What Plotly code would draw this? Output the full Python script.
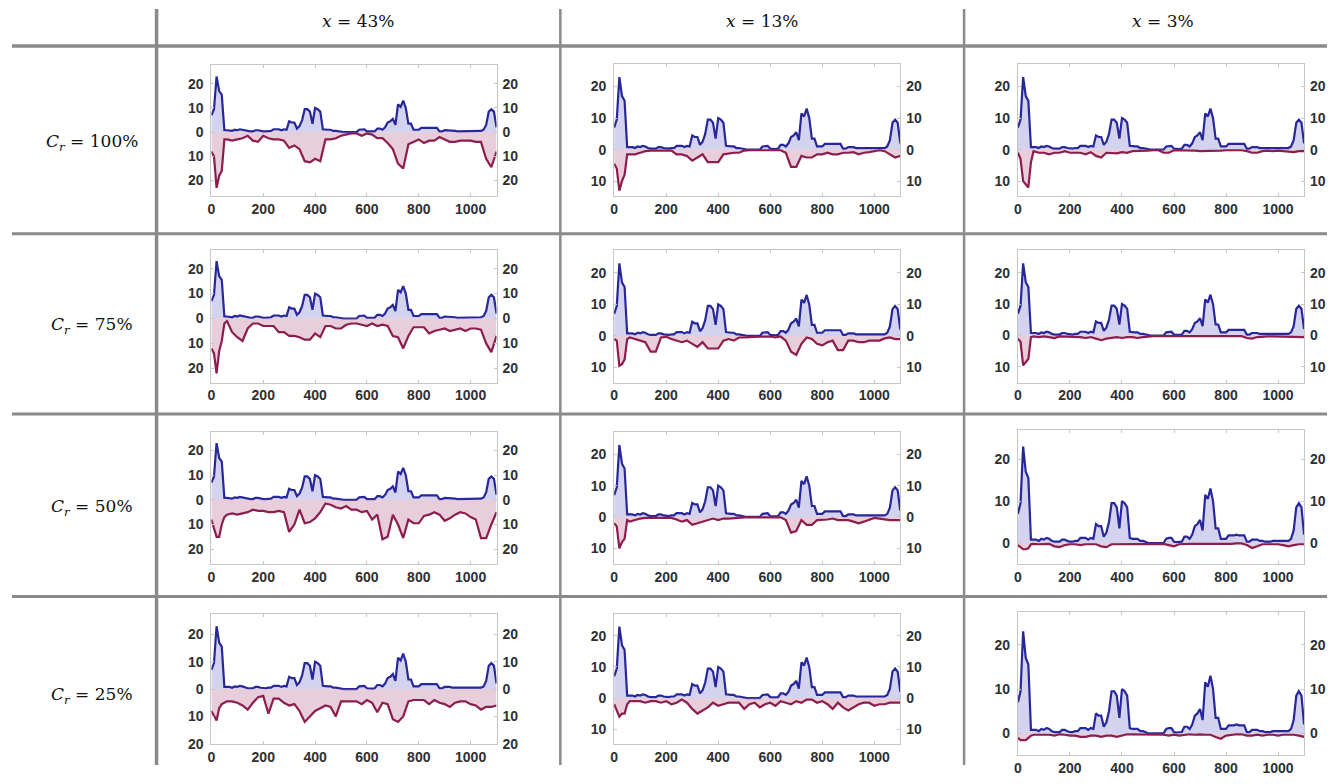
import plotly.graph_objects as go

# page size of the reference; the html body adds an 8px margin all round
W, H = 1335, 784
PAD = 8
FW, FH = W - 2 * PAD, H - 2 * PAD

# column / row headers
COL_LABELS = ["43%", "13%", "3%"]
ROW_LABELS = ["100%", "75%", "50%", "25%"]

X_TICKS = [0, 200, 400, 600, 800, 1000]

# upper (blue) series, same in every panel, sampled every 10
X_BLUE = list(range(0, 1101, 10))
BLUE = [7, 9.5, 23, 17, 15.5, 0.8, 0.8, 0.8, 0.5, 1,
        0.8, 1.2, 1, 0.5, 0.3, 0.3, 0.3, 0.8, 0.8, 0.5,
        0.3, 0.3, 0.5, 0.5, 1.2, 1.2, 1.2, 0.8, 1.2, 1,
        4.5, 4, 4, 1.5, 2.5, 5, 9.5, 9.5, 8.5, 3.5,
        10, 9.5, 8.5, 1.2, 1, 1, 1, 0.5, 0.5, 0.3,
        0, 0, 0, 0, 0, 0, 0, 1, 1.2, 1.2,
        0.3, 0.2, 0.2, 0.3, 1.5, 1.5, 1, 2, 4, 4.5,
        5.5, 3, 11.5, 10.5, 13, 10, 3.5, 3.5, 1, 1,
        1, 1.8, 1.8, 1.8, 2, 1.8, 1.8, 1.8, 0.3, 0.3,
        0.8, 0.8, 0.8, 0.5, 0.5, 0.3, 0.3, 0.3, 0.5, 0.5,
        0.5, 0.5, 0.5, 0.5, 0.5, 1, 3, 8.5, 9.5, 8.5,
        2]

# lower (red) series, plotted downwards
X_RED = [0, 10, 20, 30, 40, 50, 60] + list(range(80, 1101, 20))

RED_100_43 = [8, 10, 23, 18, 16, 3, 3,
              3.5, 3, 2.5, 1.5, 3.5, 4, 1.5, 2.5, 3, 3,
              3.5, 6.5, 5.5, 7, 12, 12.5, 11, 12, 3, 3,
              2.5, 1.5, 1, 0.5, 0.5, 1.5, 0.5, 1, 2.5, 2.5,
              4.5, 7, 13, 15, 5, 4, 3, 4.5, 3.5, 3.5,
              2, 3, 4, 4, 3.5, 3.5, 3.5, 4, 4, 11,
              14.5, 8]
RED_100_13 = [4.5, 6, 13, 10, 8, 1.5, 1.5,
              1.5, 1, 0.5, 0.3, 0.3, 0.3, 0.3, 0.3, 1.5, 1.5,
              2, 3.5, 2.5, 1.5, 4, 4, 4, 1.5, 1.2, 1,
              1, 0.3, 0.2, 0.2, 0.2, 0.2, 0.2, 0.2, 0.2, 1,
              5.5, 5.5, 2, 2.5, 2.5, 1.5, 1.5, 1, 1.5, 1.5,
              1, 1, 0.8, 1.5, 1, 0.8, 0.5, 0.2, 0.5, 1.5,
              2.5, 2]
RED_100_3 = [1, 3, 10, 11, 12, 4, 0.5,
             1, 1, 1.5, 1, 1, 0.5, 1, 1, 1, 1.5,
             0.8, 2, 2.5, 1, 1.2, 1.2, 0.8, 1, 0.5, 0.5,
             0.3, 0.3, 0.2, 0.2, 1, 1, 0.2, 0.2, 0.2, 0.2,
             0.3, 0.5, 0.5, 0.3, 0.3, 0.3, 0.2, 0.2, 0.2, 0.2,
             0.5, 1, 1, 0.5, 0.3, 0.5, 0.3, 0.5, 0.5, 0.8,
             0.5, 0.5]
RED_75_43 = [12, 14, 22, 13, 9, 2, 1,
             5.5, 7.5, 9, 4, 2, 2, 3, 3, 3, 5.5,
             5.5, 7, 7, 7.5, 8.5, 8.5, 6, 7.5, 3, 3,
             4, 4, 2.5, 2, 2, 2.5, 3, 2, 3, 2.5,
             3, 7, 7.5, 12, 7, 3.5, 3.5, 3.5, 6, 5,
             4.5, 4, 5, 4.5, 4, 5, 4, 4, 4.5, 10,
             13.5, 7]
RED_75_13 = [1, 1.5, 9.5, 9, 7.5, 1, 0.5,
             1, 1.5, 2, 5, 5, 0.5, 0.3, 1, 1.5, 2,
             1.5, 2.5, 3.5, 2, 4, 4, 4, 1.5, 1, 1.5,
             0.5, 0.5, 0.5, 0.3, 0.2, 0.2, 0.2, 0.5, 0.2, 1.5,
             5, 6, 2.5, 0.5, 1, 2.5, 3, 2, 1.5, 4.5,
             4.5, 1.5, 1.5, 2, 2, 1.5, 1.5, 1.5, 0.8, 0.5,
             1, 1]
RED_75_3 = [1, 2, 9.5, 8.5, 7.5, 0.5, 0.3,
            0.5, 0.3, 0.5, 0.8, 0.3, 0.3, 0.3, 0.3, 0.5, 0.8,
            0.5, 1, 1.5, 1, 0.8, 0.5, 0.8, 0.5, 0.5, 0.8,
            0.5, 0.3, 0.2, 0.2, 0.2, 0.2, 0.2, 0.2, 0.2, 0.2,
            0.2, 0.2, 0.2, 0.2, 0.2, 0.2, 0.2, 0.2, 0.2, 0.2,
            0.8, 1, 0.5, 0.3, 0.3, 0.3, 0.3, 0.3, 0.5, 0.3,
            0.5, 0.5]
RED_50_43 = [8, 12, 15, 15, 10, 7, 6,
             5.5, 6, 5.5, 5, 4, 4.5, 4.5, 5, 5, 4.5,
             5, 13, 10, 4, 9.5, 9, 7.5, 5, 1.5, 2,
             3, 3.5, 2.5, 4, 4, 5, 4.5, 8, 6, 16,
             15, 6, 10, 15.5, 8, 9.5, 9.5, 6.5, 6, 5,
             6, 8.5, 7.5, 6, 5, 5.5, 7, 8, 15.5, 15.5,
             10, 5]
RED_50_13 = [2, 3, 10, 8, 7, 1, 1.5,
             1, 0.5, 0.3, 0.3, 0.3, 0.3, 0.3, 0.3, 0.8, 1.5,
             1, 2.5, 2, 1.5, 1, 0.5, 1, 0.5, 0.5, 0.3,
             0.3, 0.1, 0.1, 0.1, 0.1, 0.1, 0.1, 0.1, 0.1, 1,
             5, 4.5, 1, 2.5, 2.5, 1, 1, 0.8, 0.5, 1,
             1, 1, 1.5, 2, 1.5, 0.8, 0.3, 0.5, 0.8, 1,
             1, 1]
RED_50_3 = [0.5, 1, 1.5, 1.5, 1.3, 0.3, 0.2,
            0.3, 0.2, 0.2, 0.8, 1, 0.5, 0.3, 0.3, 0.5, 0.3,
            0.3, 0.3, 0.8, 1, 0.3, 0.3, 0.3, 0.2, 0.2, 0.2,
            0.2, 0.2, 0.2, 0.2, 0.2, 0.5, 0.8, 0.3, 0.2, 0.2,
            0.2, 0.2, 0.3, 0.3, 0.2, 0.2, 0.2, 0.2, 0.1, 0.1,
            0.5, 1.2, 0.8, 0.3, 0.3, 0.3, 0.3, 0.5, 0.8, 0.5,
            0.3, 0.3]
RED_25_43 = [8, 10, 11.5, 7, 5.5, 5, 4.5,
             4.5, 5, 6, 7.5, 5, 3, 2.5, 9, 3.5, 3.5,
             5, 6, 5.5, 8, 12, 10, 8, 7, 6, 6.5,
             10, 4.5, 4.5, 4.5, 4.5, 5.5, 4, 5, 8.5, 5,
             5.5, 11, 12, 10, 4.5, 4, 4, 4, 5.5, 4,
             5, 5.5, 6.5, 5, 4.5, 4.5, 5.5, 6, 7.5, 6.5,
             6.5, 6]
RED_25_13 = [2, 4, 6, 5, 5, 2, 1,
             1, 1, 1.5, 1, 1, 1.5, 1, 2, 1.5, 0.5,
             1.5, 3.5, 5, 4, 3, 1.5, 2.5, 2, 1.5, 1.5,
             1.5, 3.5, 2, 1.5, 3, 2, 1.5, 2.5, 1, 1.5,
             2, 1, 1.5, 0.5, 0.5, 1.5, 1, 2, 3.5, 1.5,
             3, 4, 3, 2, 1.5, 1.5, 2.5, 2, 2, 1.5,
             1.5, 1.5]
RED_25_3 = [1, 1.5, 1.5, 1.5, 1, 0.5, 0.3,
            0.3, 0.3, 0.3, 0.5, 0.2, 0.3, 0.5, 0.5, 0.8, 0.8,
            0.5, 0.5, 0.8, 0.5, 0.5, 0.8, 0.5, 0.2, 0.2, 0.2,
            0.2, 0.3, 0.2, 0.3, 0.3, 0.5, 0.3, 0.5, 0.3, 0.2,
            0.3, 0.2, 0.3, 0.3, 0.8, 1.2, 0.5, 0.3, 0.2, 0.2,
            0.5, 0.5, 0.3, 0.5, 0.3, 0.3, 0.5, 0.3, 0.3, 0.3,
            0.5, 0.8]

RED = [[RED_100_43, RED_100_13, RED_100_3],
       [RED_75_43, RED_75_13, RED_75_3],
       [RED_50_43, RED_50_13, RED_50_3],
       [RED_25_43, RED_25_13, RED_25_3]]

# y-axis ranges of every small plot
Y_RANGE = [[(-26.5, 27.7), (-14.8, 27.1), (-14.8, 27.1)],
           [(-25.7, 27.3), (-14.8, 27.1), (-15, 27.1)],
           [(-26, 27.6), (-15, 27.2), (-5, 27)],
           [(-20.2, 27.4), (-14.9, 27), (-4.9, 27.3)]]

# plot boxes in page pixels
COL_BOX = [(208, 494), (612, 899), (1017, 1304)]
ROW_BOX = [[(66, 199), (65, 199), (65, 199)],
           [(254, 388), (254, 388), (254, 388)],
           [(438, 572), (438, 572), (436, 572)],
           [(623, 755), (623, 755), (621, 766)]]

BLUE_LINE, BLUE_FILL = "#27279a", "rgba(150,150,220,0.42)"
RED_LINE, RED_FILL = "#8c1d4e", "rgba(190,120,155,0.36)"
BOX = "#c6c6c6"
TICK_FONT = dict(family="Liberation Sans", size=14, color="#303030",
                 weight="bold")


def px(x):
    return (x - PAD) / FW


def py(y):
    return 1 - (y - PAD) / FH


def ref(prefix, i):
    return prefix if i == 1 else f"{prefix}{i}"


fig = go.Figure()
layout = {}

for r in range(4):
    for c in range(3):
        i = r * 3 + c + 1
        j = i + 12
        x0, x1 = COL_BOX[c]
        top, bot = ROW_BOX[r][c]
        lo, hi = Y_RANGE[r][c]
        yt = [v for v in (-20, -10, 0, 10, 20) if lo <= v <= hi]
        ytxt = [str(abs(v)) for v in yt]

        layout[ref("xaxis", i)] = dict(
            domain=[px(x0), px(x1)], range=[0, 1100], anchor=ref("y", i),
            tickvals=X_TICKS, showgrid=False, zeroline=False,
            showline=True, linecolor=BOX, linewidth=1, mirror="ticks",
            ticks="inside", ticklen=3, tickcolor=BOX, tickfont=TICK_FONT)
        layout[ref("yaxis", i)] = dict(
            domain=[py(bot), py(top)], range=[lo, hi], anchor=ref("x", i),
            tickvals=yt, ticktext=ytxt, showgrid=False, zeroline=False,
            showline=True, linecolor=BOX, linewidth=1, mirror="ticks",
            ticks="inside", ticklen=3, tickcolor=BOX, tickfont=TICK_FONT,
            ticklabelstandoff=4)
        layout[ref("yaxis", j)] = dict(
            overlaying=ref("y", i), side="right", anchor=ref("x", i),
            range=[lo, hi], tickvals=yt, ticktext=ytxt, showgrid=False,
            zeroline=False, showline=False, ticks="", tickfont=TICK_FONT,
            ticklabelstandoff=5)

        fig.add_trace(go.Scatter(
            x=X_BLUE, y=BLUE, mode="lines", fill="tozeroy",
            fillcolor=BLUE_FILL, line=dict(color=BLUE_LINE, width=2.2),
            xaxis=ref("x", i), yaxis=ref("y", i), hoverinfo="skip"))
        fig.add_trace(go.Scatter(
            x=X_RED, y=[-v for v in RED[r][c]], mode="lines", fill="tozeroy",
            fillcolor=RED_FILL, line=dict(color=RED_LINE, width=2.2),
            xaxis=ref("x", i), yaxis=ref("y", j), hoverinfo="skip"))

# table rules
shapes = []
for y, w in [(46.5, 3.5), (237, 3), (420, 3), (605, 3)]:
    shapes.append(dict(type="line", xref="paper", yref="paper",
                       x0=px(8), x1=1, y0=py(y), y1=py(y),
                       line=dict(color="#8a8a8a", width=w)))
for x, w in [(153, 3.5), (558, 2.5), (963, 2.5)]:
    shapes.append(dict(type="line", xref="paper", yref="paper",
                       x0=px(x), x1=px(x), y0=py(9), y1=0,
                       line=dict(color="#8a8a8a", width=w)))

HEAD_FONT = dict(family="DejaVu Serif", size=17, color="#111")
annotations = []
for c, lab in enumerate(COL_LABELS):
    annotations.append(dict(
        x=px([355, 760, 1163][c]), y=py(21), xref="paper", yref="paper",
        text=f"<i>x</i> = {lab}", showarrow=False, font=HEAD_FONT,
        xanchor="center", yanchor="middle"))
for r, lab in enumerate(ROW_LABELS):
    annotations.append(dict(
        x=px(88), y=py([144, 330, 515, 705][r]), xref="paper", yref="paper",
        text=f"<i>C</i><sub><i>r</i></sub> = {lab}", showarrow=False,
        font=HEAD_FONT, xanchor="center", yanchor="middle"))

fig.update_layout(
    width=FW, height=FH, margin=dict(l=0, r=0, t=0, b=0),
    paper_bgcolor="white", plot_bgcolor="white", showlegend=False,
    shapes=shapes, annotations=annotations, **layout)

fig.write_html("out.html")
